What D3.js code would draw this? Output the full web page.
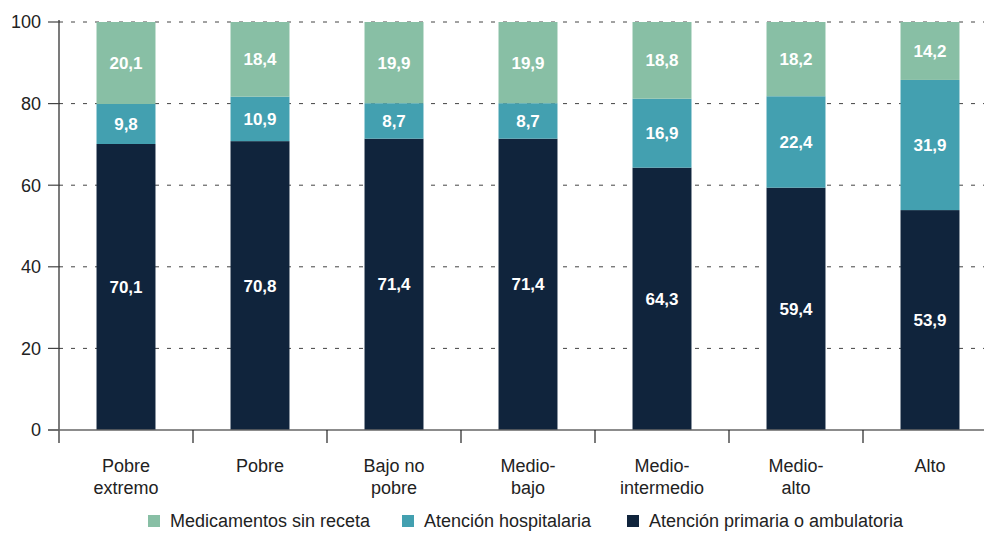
<!DOCTYPE html>
<html><head><meta charset="utf-8">
<script src="https://cdn.jsdelivr.net/npm/d3@7"></script>
<style>body{margin:0;background:#fff}svg{display:block}text{font-family:"Liberation Sans",Arial,sans-serif}</style>
</head><body>
<svg id="c" width="984" height="533"></svg>
<script>
const categories = [["Pobre","extremo"],["Pobre"],["Bajo no","pobre"],["Medio-","bajo"],["Medio-","intermedio"],["Medio-","alto"],["Alto"]];
const seriesNames = ["Atención primaria o ambulatoria","Atención hospitalaria","Medicamentos sin receta"];
const primaria = [70.1,70.8,71.4,71.4,64.3,59.4,53.9];
const hospitalaria = [9.8,10.9,8.7,8.7,16.9,22.4,31.9];
const medicamentos = [20.1,18.4,19.9,19.9,18.8,18.2,14.2];
const yTicks = [0,20,40,60,80,100];
const colors = ["#10243c","#43a0b0","#88bfa5"];

const svg = d3.select("#c");
const x = d3.scaleBand().domain(d3.range(categories.length)).range([59,997]).paddingInner(0.56).paddingOuter(0.28);
const band = d3.scaleBand().domain(d3.range(categories.length)).range([59,997]);
const y = d3.scaleLinear().domain([0,100]).range([430,22]);

// grid
svg.append("g").selectAll("line").data(yTicks.filter(d=>d>0)).join("line")
  .attr("x1",59).attr("x2",984).attr("y1",d=>y(d)).attr("y2",d=>y(d))
  .attr("stroke","#444").attr("stroke-width",1).attr("stroke-dasharray","4,8");

const series = [primaria,hospitalaria,medicamentos];
const rows = categories.map((c,i)=>({i, v:series.map(s=>s[i])}));
rows.forEach(r=>{
  let acc=0;
  r.v.forEach((v,k)=>{
    const y0=acc, y1=acc+v; acc=y1;
    const top = Math.min(y1,100);
    svg.append("rect").attr("x",x(r.i)).attr("width",x.bandwidth())
      .attr("y",y(top)).attr("height",y(y0)-y(top)).attr("fill",colors[k]);
    svg.append("text").attr("x",x(r.i)+x.bandwidth()/2).attr("y",y((y0+top)/2)).attr("dy","0.36em")
      .attr("text-anchor","middle").attr("fill","#fff").attr("font-weight","bold").attr("font-size",17)
      .text(v.toFixed(1).replace(".",","));
  });
});

// y axis
svg.append("line").attr("x1",59).attr("x2",59).attr("y1",20).attr("y2",443).attr("stroke","#222").attr("stroke-width",1.2);
svg.append("g").selectAll("line").data(yTicks).join("line")
  .attr("x1",48).attr("x2",59).attr("y1",d=>y(d)).attr("y2",d=>y(d)).attr("stroke","#444").attr("stroke-width",1.2);
svg.append("g").selectAll("text").data(yTicks).join("text")
  .attr("x",41).attr("y",d=>y(d)).attr("dy","0.36em").attr("text-anchor","end")
  .attr("font-size",18).attr("fill","#222").text(d=>d);

// x axis
svg.append("line").attr("x1",48).attr("x2",984).attr("y1",430).attr("y2",430).attr("stroke","#666").attr("stroke-width",1.5);
svg.append("g").selectAll("line").data(d3.range(1,categories.length)).join("line")
  .attr("x1",d=>band(d)).attr("x2",d=>band(d)).attr("y1",430).attr("y2",443).attr("stroke","#222").attr("stroke-width",1.2);
categories.forEach((c,i)=>{
  const t = svg.append("text").attr("x",x(i)+x.bandwidth()/2).attr("y",472).attr("text-anchor","middle")
    .attr("font-size",18).attr("fill","#222");
  c.forEach((l,j)=>t.append("tspan").attr("x",x(i)+x.bandwidth()/2).attr("dy",j?22:0).text(l));
});

// legend
const legend = [{n:seriesNames[2],c:colors[2],x:148},{n:seriesNames[1],c:colors[1],x:402},{n:seriesNames[0],c:colors[0],x:627}];
legend.forEach(l=>{
  svg.append("rect").attr("x",l.x).attr("y",515).attr("width",12).attr("height",12).attr("fill",l.c);
  svg.append("text").attr("x",l.x+22).attr("y",521).attr("dy","0.36em").attr("font-size",18).attr("fill","#222").text(l.n);
});
</script>
</body></html>
